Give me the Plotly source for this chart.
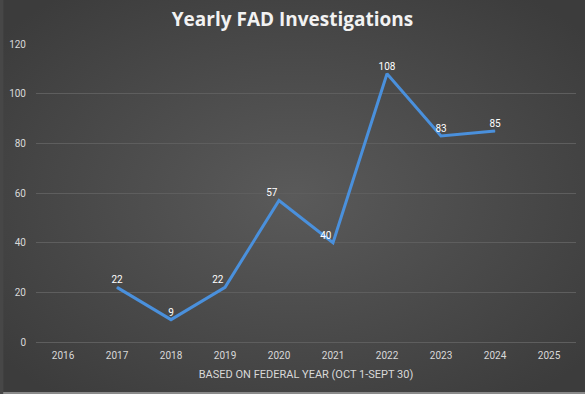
import plotly.graph_objects as go
import urllib.parse

years = ["2016", "2017", "2018", "2019", "2020", "2021", "2022", "2023", "2024", "2025"]
investigations = [None, 22, 9, 22, 57, 40, 108, 83, 85, None]
labels = ["" if v is None else str(v) for v in investigations]
label_positions = ["top center", "top center", "top center", "top left", "top left",
                   "top left", "top center", "top center", "top center", "top center"]

W, H = 585, 394
ml, mr, mt, mb = 33, 9, 44, 52
pw, ph = W - ml - mr, H - mt - mb

svg = (
    f'<svg xmlns="http://www.w3.org/2000/svg" width="{W}" height="{H}" preserveAspectRatio="none">'
    '<defs><radialGradient id="g" cx="50%" cy="50%" r="65%">'
    '<stop offset="0%" stop-color="#5a5a5a"/>'
    '<stop offset="100%" stop-color="#3c3c3c"/>'
    '</radialGradient></defs>'
    f'<rect width="{W}" height="{H}" fill="url(#g)"/></svg>'
)
src = "data:image/svg+xml;charset=utf-8," + urllib.parse.quote(svg)

fig = go.Figure()
fig.add_trace(go.Scatter(
    x=years, y=investigations, mode="lines+markers+text",
    line=dict(color="#4a90dc", width=3),
    marker=dict(size=1, color="#4a90dc"),
    text=labels, textposition=label_positions,
    textfont=dict(color="#ffffff", size=10, family="Roboto"),
    connectgaps=False, cliponaxis=False, showlegend=False,
    hoverinfo="skip",
))

fig.update_layout(
    width=W, height=H,
    margin=dict(l=ml, r=mr, t=mt, b=mb),
    paper_bgcolor="#474747",
    plot_bgcolor="rgba(0,0,0,0)",
    title=dict(text="<b>Yearly FAD Investigations</b>", xref="container",
               x=0.5, xanchor="center",
               y=1 - 19 / H, yanchor="middle",
               font=dict(color="#f2f2f2", size=19, family="Open Sans")),
    font=dict(family="Roboto", color="#d9d9d9", size=10),
    xaxis=dict(
        type="category", categoryorder="array", categoryarray=years,
        range=[-0.5, len(years) - 0.5],
        showgrid=False, zeroline=False, showline=False, ticks="",
        ticklabelstandoff=6,
        tickfont=dict(color="#d9d9d9", size=10),
        title=dict(text="BASED ON FEDERAL YEAR (OCT 1-SEPT 30)", standoff=10,
                   font=dict(color="#d9d9d9", size=11)),
    ),
    yaxis=dict(
        range=[0, 120], dtick=20, tick0=0,
        showgrid=True, gridcolor="#5e5e5e", gridwidth=1,
        zeroline=True, zerolinecolor="#5e5e5e", zerolinewidth=1,
        showline=False, ticks="", ticklabelstandoff=9,
        tickfont=dict(color="#d9d9d9", size=10),
    ),
    images=[dict(source=src, xref="paper", yref="paper",
                 x=-ml / pw, y=1 + mt / ph, sizex=W / pw, sizey=H / ph,
                 xanchor="left", yanchor="top", sizing="stretch", layer="below")],
    shapes=[dict(type="rect", xref="paper", yref="paper",
                 x0=-ml / pw, x1=1 + mr / pw, y0=-mb / ph, y1=-(mb - 2) / ph,
                 fillcolor="#8a8a8a", line=dict(width=0), layer="below")],
)

fig.write_html("out.html", config={"displayModeBar": False},
               post_script="document.body.style.margin='0';document.body.style.padding='0';")
